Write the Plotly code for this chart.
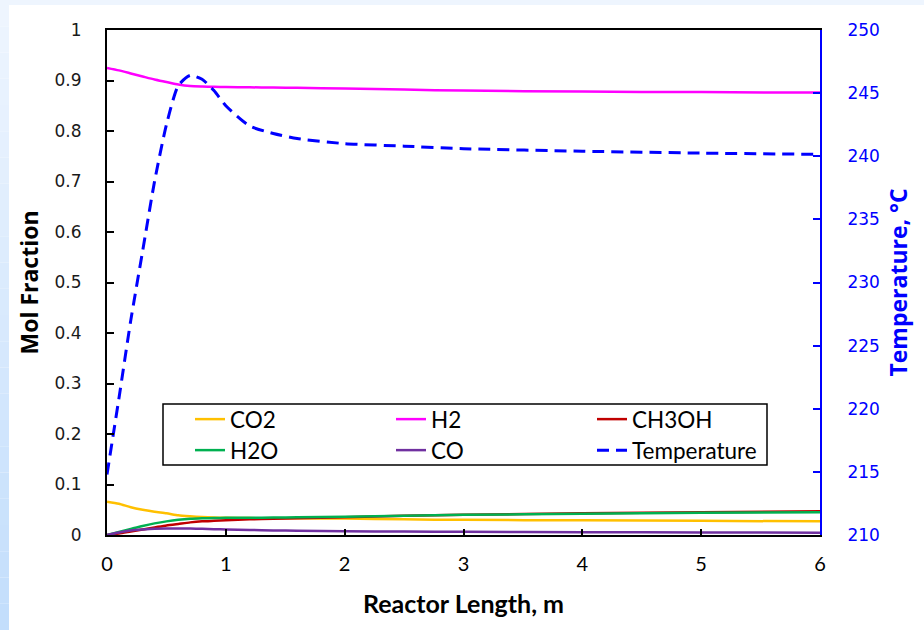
import plotly.graph_objects as go

# ---- data ----
length_m = [0, 0.1, 0.2, 0.3, 0.4, 0.5, 0.6, 0.7, 0.8, 0.9, 1.0, 1.2, 1.4, 1.6, 2.0, 2.5, 3.0, 4.0, 5.0, 6.0]
co2 = [0.066, 0.062, 0.055, 0.050, 0.046, 0.043, 0.039, 0.037, 0.0355, 0.0345, 0.034, 0.0335, 0.033, 0.033, 0.0325, 0.031, 0.030, 0.029, 0.028, 0.027]
h2 = [0.925, 0.920, 0.914, 0.908, 0.902, 0.897, 0.892, 0.889, 0.888, 0.8875, 0.887, 0.8865, 0.886, 0.8855, 0.884, 0.882, 0.880, 0.878, 0.877, 0.876]
ch3oh = [0.0, 0.003, 0.007, 0.011, 0.015, 0.019, 0.022, 0.025, 0.027, 0.028, 0.029, 0.031, 0.032, 0.033, 0.035, 0.038, 0.040, 0.043, 0.045, 0.047]
h2o = [0.0, 0.006, 0.012, 0.018, 0.023, 0.027, 0.030, 0.032, 0.033, 0.0335, 0.034, 0.034, 0.0345, 0.035, 0.036, 0.038, 0.040, 0.042, 0.044, 0.045]
co = [0.0, 0.005, 0.009, 0.011, 0.0125, 0.013, 0.013, 0.0128, 0.0122, 0.0115, 0.011, 0.010, 0.009, 0.0085, 0.0075, 0.0068, 0.0062, 0.0055, 0.005, 0.0046]
temperature = [214.8, 220.8, 227.0, 232.5, 238.0, 242.5, 245.6, 246.4, 246.1, 245.2, 244.0, 242.4, 241.8, 241.4, 241.0, 240.8, 240.6, 240.4, 240.25, 240.15]

x_ticks = [0, 1, 2, 3, 4, 5, 6]
y_ticks = [0, 0.1, 0.2, 0.3, 0.4, 0.5, 0.6, 0.7, 0.8, 0.9, 1]
y2_ticks = [210, 215, 220, 225, 230, 235, 240, 245, 250]

W, H = 924, 630
L, R, T, B = 107, 820, 30, 535
PW, PH = R - L, B - T


def px(xp):
    return (xp - L) / PW


def py(yp):
    return (B - yp) / PH


fig = go.Figure()

species = [
    ("CO2", co2, "#FFC000", "legend"),
    ("H2", h2, "#FF00FF", "legend"),
    ("CH3OH", ch3oh, "#C00000", "legend"),
    ("H2O", h2o, "#00B050", "legend2"),
    ("CO", co, "#7030A0", "legend2"),
]
for name, vals, col, lg in species:
    fig.add_trace(go.Scatter(
        x=length_m, y=vals, name=name, mode="lines",
        line=dict(color=col, width=2.5, shape="spline", smoothing=0.6),
        legend=lg, yaxis="y",
    ))

fig.add_trace(go.Scatter(
    x=length_m, y=temperature, name="Temperature", mode="lines",
    line=dict(color="#0000FF", width=3, dash="12px,7px", shape="spline", smoothing=0.6),
    legend="legend2", yaxis="y2",
))

tick_font_y = dict(family="DejaVu Sans", size=17, color="#1a1a1a")
tick_font_y2 = dict(family="DejaVu Sans", size=17, color="#0000FF")

shapes = []
# light blue frame (top strip and left gradient strip)
shapes.append(dict(type="rect", xref="paper", yref="paper",
                   x0=px(0), x1=px(W), y0=py(5), y1=py(0),
                   fillcolor="#EEF5FE", line=dict(width=0), layer="below"))
nb = 24
c0 = (238, 245, 254)
c1 = (195, 222, 252)
for i in range(nb):
    t = i / (nb - 1)
    c = tuple(round(c0[k] + (c1[k] - c0[k]) * t) for k in range(3))
    shapes.append(dict(type="rect", xref="paper", yref="paper",
                       x0=px(0), x1=px(9),
                       y0=py(H * (i + 1) / nb), y1=py(H * i / nb),
                       fillcolor="rgb(%d,%d,%d)" % c, line=dict(width=0), layer="below"))
# legend box
shapes.append(dict(type="rect", xref="paper", yref="paper",
                   x0=px(163), x1=px(767), y0=py(465), y1=py(404),
                   fillcolor="rgba(0,0,0,0)", line=dict(color="black", width=1.5), layer="above"))

legend_common = dict(orientation="h", xanchor="left", yanchor="top",
                     bgcolor="rgba(0,0,0,0)", borderwidth=0,
                     font=dict(family="Lato", size=22.5, color="black"),
                     entrywidth=156, entrywidthmode="pixels", itemwidth=30,
                     traceorder="normal")

fig.update_layout(
    width=W, height=H,
    margin=dict(l=L, r=W - R, t=T, b=H - B, pad=0),
    paper_bgcolor="white", plot_bgcolor="white",
    showlegend=True,
    shapes=shapes,
    legend=dict(x=px(190), y=py(398), **legend_common),
    legend2=dict(x=px(190), y=py(429), **legend_common),
    xaxis=dict(
        range=[0, 6], tickvals=x_ticks, ticktext=[str(v) for v in x_ticks],
        ticks="inside", ticklen=6, tickwidth=1.5, tickcolor="black",
        showline=True, linecolor="black", linewidth=2, mirror=True,
        showgrid=False, zeroline=False,
        tickfont=dict(family="Lato", size=20, color="black"),
        ticklabelstandoff=10,
        title=dict(text="Reactor Length, m", font=dict(family="Lato", size=25, color="black", weight="bold"),
                   standoff=21),
    ),
    yaxis=dict(
        range=[0, 1], tickvals=y_ticks, ticktext=["0", "0.1", "0.2", "0.3", "0.4", "0.5", "0.6", "0.7", "0.8", "0.9", "1"],
        ticks="inside", ticklen=7, tickwidth=1.5, tickcolor="black",
        showline=True, linecolor="black", linewidth=2,
        showgrid=False, zeroline=False,
        tickfont=tick_font_y, ticklabelstandoff=20,
        title=dict(text="Mol Fraction", font=dict(family="Open Sans", size=23, color="black", weight="bold"),
                   standoff=10),
    ),
    yaxis2=dict(
        range=[210, 250], tickvals=y2_ticks, ticktext=[str(v) for v in y2_ticks],
        overlaying="y", side="right",
        ticks="inside", ticklen=7, tickwidth=1.5, tickcolor="#0000FF",
        showline=True, linecolor="#0000FF", linewidth=2,
        showgrid=False, zeroline=False,
        tickfont=tick_font_y2, ticklabelstandoff=22,
        title=dict(text="Temperature, °C", font=dict(family="Open Sans", size=23, color="#0000FF", weight="bold"),
                   standoff=12),
    ),
)

fig.write_html("out.html", config={"displayModeBar": False},
               post_script="document.body.style.margin='0';document.body.style.padding='0';")
